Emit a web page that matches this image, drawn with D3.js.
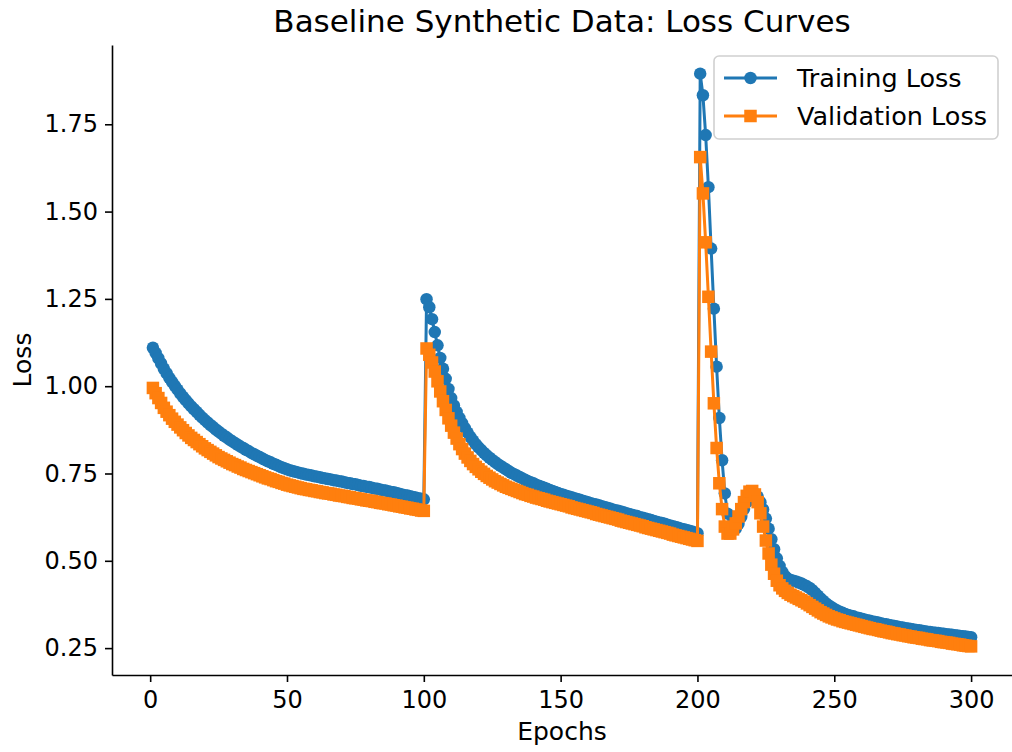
<!DOCTYPE html>
<html><head><meta charset="utf-8">
<script src="https://cdn.jsdelivr.net/npm/d3@7"></script>
<style>
html,body{margin:0;padding:0;background:#fff;}
text{font-family:"DejaVu Sans",sans-serif;fill:#000;}
</style></head>
<body>
<svg id="chart" width="1012" height="752"></svg>
<script>
const title = "Baseline Synthetic Data: Loss Curves";
const xLabel = "Epochs";
const yLabel = "Loss";
const seriesNames = ["Training Loss", "Validation Loss"];
const xTicks = [0, 50, 100, 150, 200, 250, 300];
const yTicks = [0.25, 0.50, 0.75, 1.00, 1.25, 1.50, 1.75];
const epochs = d3.range(1, 301);

const trainLoss = [
1.110,1.095,1.080,1.065,1.050,1.037,1.024,1.012,1.001,0.990,
0.979,0.969,0.960,0.951,0.942,0.934,0.926,0.918,0.910,0.903,
0.896,0.889,0.883,0.876,0.870,0.864,0.858,0.853,0.847,0.842,
0.837,0.832,0.827,0.823,0.818,0.814,0.809,0.805,0.801,0.797,
0.793,0.789,0.785,0.782,0.778,0.775,0.771,0.768,0.765,0.762,
0.759,0.757,0.755,0.753,0.751,0.749,0.747,0.746,0.744,0.742,
0.741,0.739,0.737,0.736,0.734,0.733,0.731,0.730,0.728,0.727,
0.725,0.723,0.722,0.720,0.719,0.717,0.715,0.714,0.712,0.711,
0.709,0.707,0.706,0.704,0.702,0.701,0.699,0.697,0.696,0.694,
0.692,0.690,0.688,0.687,0.685,0.683,0.681,0.679,0.678,0.676,
1.249,1.226,1.192,1.155,1.117,1.081,1.050,1.021,0.992,0.966,
0.945,0.926,0.909,0.894,0.880,0.867,0.855,0.844,0.834,0.825,
0.817,0.809,0.802,0.795,0.789,0.783,0.777,0.772,0.767,0.762,
0.757,0.752,0.748,0.744,0.740,0.736,0.732,0.728,0.725,0.722,
0.718,0.715,0.712,0.709,0.706,0.703,0.700,0.697,0.694,0.691,
0.689,0.686,0.684,0.682,0.679,0.677,0.675,0.672,0.670,0.668,
0.665,0.663,0.661,0.659,0.656,0.654,0.652,0.650,0.647,0.645,
0.643,0.641,0.639,0.636,0.634,0.632,0.630,0.628,0.625,0.623,
0.621,0.619,0.617,0.614,0.612,0.610,0.608,0.606,0.603,0.601,
0.599,0.597,0.595,0.592,0.590,0.588,0.586,0.584,0.581,0.579,
1.895,1.833,1.719,1.570,1.394,1.222,1.056,0.909,0.788,0.693,
0.635,0.600,0.588,0.592,0.606,0.626,0.648,0.668,0.683,0.692,
0.692,0.684,0.668,0.647,0.621,0.592,0.562,0.533,0.507,0.485,
0.468,0.456,0.449,0.445,0.443,0.441,0.438,0.435,0.431,0.427,
0.422,0.416,0.408,0.400,0.392,0.385,0.378,0.372,0.367,0.362,
0.358,0.354,0.351,0.348,0.345,0.343,0.341,0.338,0.336,0.334,
0.332,0.330,0.328,0.326,0.325,0.323,0.321,0.319,0.318,0.316,
0.315,0.313,0.312,0.310,0.309,0.307,0.306,0.305,0.303,0.302,
0.301,0.300,0.298,0.297,0.296,0.295,0.294,0.293,0.292,0.291,
0.290,0.289,0.288,0.287,0.286,0.285,0.284,0.283,0.282,0.281
];

const valLoss = [
0.995,0.980,0.966,0.952,0.938,0.927,0.917,0.907,0.898,0.890,
0.882,0.874,0.866,0.859,0.852,0.846,0.840,0.834,0.828,0.822,
0.817,0.812,0.807,0.802,0.797,0.793,0.789,0.785,0.781,0.777,
0.774,0.770,0.767,0.763,0.760,0.757,0.754,0.751,0.748,0.745,
0.742,0.739,0.736,0.734,0.731,0.728,0.726,0.723,0.721,0.718,
0.716,0.714,0.712,0.710,0.708,0.706,0.705,0.703,0.702,0.700,
0.699,0.697,0.696,0.694,0.693,0.692,0.690,0.689,0.687,0.686,
0.685,0.683,0.682,0.680,0.679,0.678,0.676,0.675,0.673,0.672,
0.671,0.669,0.668,0.666,0.665,0.664,0.662,0.661,0.659,0.658,
0.656,0.655,0.653,0.652,0.650,0.649,0.647,0.646,0.644,0.643,
1.108,1.090,1.068,1.042,1.014,0.985,0.957,0.932,0.908,0.887,
0.867,0.850,0.834,0.820,0.807,0.796,0.786,0.777,0.769,0.762,
0.755,0.749,0.743,0.738,0.733,0.728,0.724,0.720,0.716,0.712,
0.709,0.706,0.703,0.700,0.697,0.694,0.691,0.689,0.686,0.684,
0.681,0.679,0.677,0.675,0.672,0.670,0.668,0.666,0.664,0.662,
0.660,0.658,0.656,0.653,0.651,0.649,0.647,0.645,0.643,0.641,
0.639,0.637,0.634,0.632,0.630,0.628,0.626,0.624,0.622,0.620,
0.618,0.615,0.613,0.611,0.609,0.607,0.605,0.603,0.601,0.599,
0.596,0.594,0.592,0.590,0.588,0.586,0.584,0.582,0.580,0.578,
0.575,0.573,0.571,0.569,0.567,0.565,0.563,0.561,0.559,0.557,
1.656,1.552,1.412,1.256,1.099,0.951,0.823,0.722,0.648,0.598,
0.578,0.578,0.590,0.607,0.627,0.648,0.668,0.686,0.698,0.700,
0.690,0.668,0.636,0.598,0.558,0.521,0.489,0.463,0.443,0.430,
0.421,0.414,0.408,0.403,0.399,0.395,0.391,0.387,0.383,0.378,
0.373,0.368,0.363,0.358,0.353,0.349,0.345,0.341,0.338,0.335,
0.332,0.330,0.327,0.325,0.323,0.321,0.319,0.317,0.315,0.313,
0.311,0.309,0.307,0.305,0.304,0.302,0.300,0.298,0.297,0.295,
0.293,0.292,0.290,0.289,0.287,0.286,0.284,0.283,0.281,0.280,
0.279,0.277,0.276,0.275,0.273,0.272,0.271,0.270,0.268,0.267,
0.266,0.265,0.263,0.262,0.261,0.260,0.258,0.257,0.256,0.255
];

const colors = ["#1f77b4", "#ff7f0e"];

const svg = d3.select("#chart");
const margin = {left: 112, right: 0, top: 45, bottom: 77};
const W = 1012, H = 752;
const plotW = W - margin.left - margin.right;
const plotH = H - margin.top - margin.bottom;

const xExt = d3.extent(epochs);
const xPad = (xExt[1] - xExt[0]) * 0.05;
const allY = trainLoss.concat(valLoss);
const yExt = d3.extent(allY);
const yPad = (yExt[1] - yExt[0]) * 0.05;

const x = d3.scaleLinear().domain([xExt[0] - xPad, xExt[1] + xPad]).range([margin.left, margin.left + plotW]);
const y = d3.scaleLinear().domain([yExt[0] - yPad, yExt[1] + yPad]).range([margin.top + plotH, margin.top]);

const tickFont = 24;
const xAxis = d3.axisBottom(x).tickValues(xTicks).tickFormat(d3.format("d")).tickSizeInner(7).tickSizeOuter(0).tickPadding(7);
const yAxis = d3.axisLeft(y).tickValues(yTicks).tickFormat(d3.format(".2f")).tickSizeInner(7).tickSizeOuter(0).tickPadding(7);

const gx = svg.append("g").attr("transform", `translate(0,${margin.top + plotH})`).call(xAxis);
const gy = svg.append("g").attr("transform", `translate(${margin.left},0)`).call(yAxis);
[gx, gy].forEach(g => {
  g.select(".domain").attr("stroke", "#000").attr("stroke-width", 1.6);
  g.selectAll(".tick line").attr("stroke", "#000").attr("stroke-width", 1.6);
  g.selectAll(".tick text").attr("font-size", tickFont).attr("font-family", "DejaVu Sans").attr("fill", "#000");
});
gx.selectAll(".tick text").attr("dy", "0.8em");

const seriesData = [trainLoss, valLoss];
const line = d3.line().x((d, i) => x(epochs[i])).y(d => y(d));
const mr = 6.25;

seriesData.forEach((vals, s) => {
  const g = svg.append("g");
  g.append("path").datum(vals).attr("d", line)
    .attr("fill", "none").attr("stroke", colors[s]).attr("stroke-width", 3)
    .attr("stroke-linejoin", "round").attr("stroke-linecap", "square");
  if (s === 0) {
    g.selectAll("circle").data(vals).enter().append("circle")
      .attr("cx", (d, i) => x(epochs[i])).attr("cy", d => y(d)).attr("r", mr)
      .attr("fill", colors[s]);
  } else {
    g.selectAll("rect").data(vals).enter().append("rect")
      .attr("x", (d, i) => x(epochs[i]) - mr).attr("y", d => y(d) - mr)
      .attr("width", 2 * mr).attr("height", 2 * mr).attr("fill", colors[s]);
  }
});

svg.append("text").attr("x", margin.left + plotW / 2).attr("y", 32)
  .attr("text-anchor", "middle").attr("font-size", 31).text(title);
svg.append("text").attr("x", margin.left + plotW / 2).attr("y", 740)
  .attr("text-anchor", "middle").attr("font-size", 25).text(xLabel);
svg.append("text").attr("transform", `translate(31,${margin.top + plotH / 2}) rotate(-90)`)
  .attr("text-anchor", "middle").attr("font-size", 25).text(yLabel);

const lg = svg.append("g").attr("transform", "translate(714,56)");
lg.append("rect").attr("x", 0).attr("y", 0).attr("width", 284).attr("height", 83)
  .attr("rx", 5).attr("fill", "#fff").attr("fill-opacity", 0.8)
  .attr("stroke", "#d0d0d0").attr("stroke-width", 1.6);
seriesNames.forEach((name, s) => {
  const yy = 22 + s * 38;
  lg.append("line").attr("x1", 10).attr("x2", 63).attr("y1", yy).attr("y2", yy)
    .attr("stroke", colors[s]).attr("stroke-width", 3);
  if (s === 0) lg.append("circle").attr("cx", 36.5).attr("cy", yy).attr("r", mr).attr("fill", colors[s]);
  else lg.append("rect").attr("x", 36.5 - mr).attr("y", yy - mr).attr("width", 2 * mr).attr("height", 2 * mr).attr("fill", colors[s]);
  lg.append("text").attr("x", 83).attr("y", yy + 9).attr("font-size", 25.5).text(name);
});
</script>
</body></html>
